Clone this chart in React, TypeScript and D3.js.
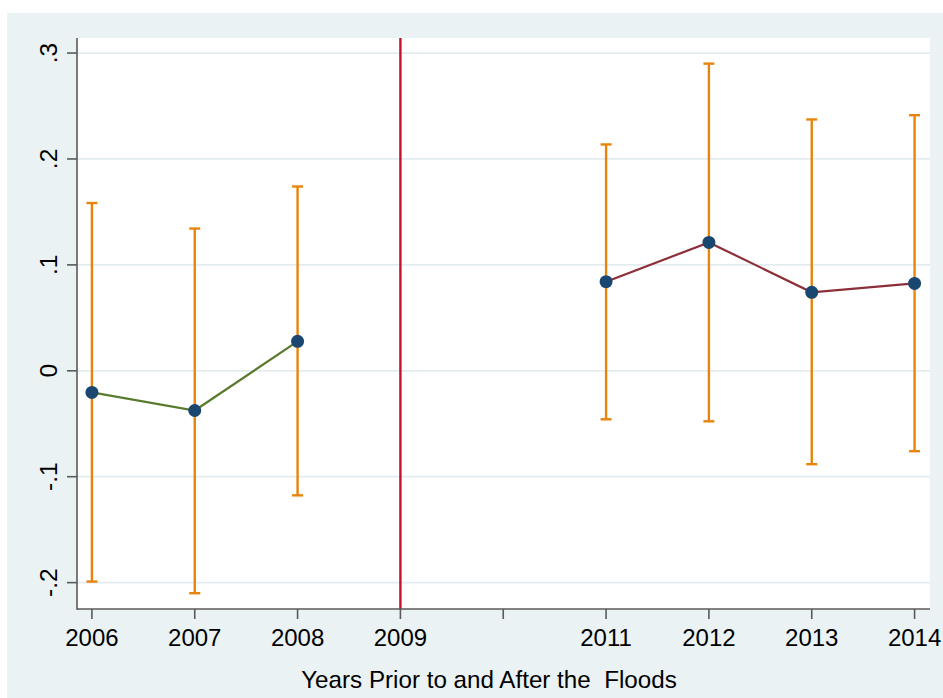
import React from "react";
import * as d3 from "d3";

// Point estimates with 95% confidence bounds, by year
const preYears = [2006, 2007, 2008];
const preEst = [-0.0204, -0.0375, 0.0278];
const preLower = [-0.199, -0.210, -0.1176];
const preUpper = [0.1584, 0.1343, 0.174];

const postYears = [2011, 2012, 2013, 2014];
const postEst = [0.0841, 0.1212, 0.0741, 0.0825];
const postLower = [-0.0458, -0.0477, -0.0882, -0.0759];
const postUpper = [0.2137, 0.290, 0.2373, 0.2413];

const floodYear = 2009;
const xTicks = [2006, 2007, 2008, 2009, 2010, 2011, 2012, 2013, 2014];
const xTickLabels = ["2006", "2007", "2008", "2009", "", "2011", "2012", "2013", "2014"];
const yTicks = [-0.2, -0.1, 0, 0.1, 0.2, 0.3];
const yTickLabels = ["-.2", "-.1", "0", ".1", ".2", ".3"];
const xTitle = "Years Prior to and After the  Floods";

const W = 943;
const H = 698;
const plot = { left: 77, right: 930, top: 38, bottom: 609 };

const BG = "#EAF2F3";
const GRID = "#E3ECEF";
const AXIS = "#5a5a5a";
const CI = "#E8840C";
const MARKER = "#1A476F";
const PRE_LINE = "#5A7B2E";
const POST_LINE = "#8C2F39";
const FLOOD = "#C8102E";
const FONT = "'Liberation Sans', Arial, Helvetica, sans-serif";

export default function App() {
  const x = d3.scaleLinear().domain([2005.855, 2014.15]).range([plot.left, plot.right]);
  const y = d3.scaleLinear().domain([-0.2249, 0.3142]).range([plot.bottom, plot.top]);

  const line = d3
    .line<[number, number]>()
    .x((d) => x(d[0]))
    .y((d) => y(d[1]));

  const pre = preYears.map((yr, i) => ({ yr, est: preEst[i], lo: preLower[i], hi: preUpper[i] }));
  const post = postYears.map((yr, i) => ({ yr, est: postEst[i], lo: postLower[i], hi: postUpper[i] }));
  const all = [...pre, ...post];
  const capHalf = 5.5;

  return (
    <svg
      width={W}
      height={H}
      style={{ position: "absolute", left: 0, top: 0, display: "block" }}
      fontFamily={FONT}
    >
      <rect x={0} y={0} width={W} height={H} fill="#ffffff" />
      <rect x={7} y={13} width={W - 7} height={H - 13} fill={BG} />
      <rect
        x={plot.left}
        y={plot.top}
        width={plot.right - plot.left}
        height={plot.bottom - plot.top}
        fill="#ffffff"
      />

      {/* horizontal grid */}
      {yTicks.map((t) => (
        <line
          key={"g" + t}
          x1={plot.left}
          x2={plot.right}
          y1={y(t)}
          y2={y(t)}
          stroke={GRID}
          strokeWidth={1.8}
        />
      ))}

      {/* flood year marker */}
      <line
        x1={x(floodYear)}
        x2={x(floodYear)}
        y1={plot.top}
        y2={plot.bottom}
        stroke={FLOOD}
        strokeWidth={2.4}
      />

      {/* confidence intervals */}
      {all.map((d) => (
        <g key={"ci" + d.yr} stroke={CI} strokeWidth={2.4}>
          <line x1={x(d.yr)} x2={x(d.yr)} y1={y(d.lo)} y2={y(d.hi)} />
          <line x1={x(d.yr) - capHalf} x2={x(d.yr) + capHalf} y1={y(d.hi)} y2={y(d.hi)} />
          <line x1={x(d.yr) - capHalf} x2={x(d.yr) + capHalf} y1={y(d.lo)} y2={y(d.lo)} />
        </g>
      ))}

      {/* connected estimates */}
      <path
        d={line(pre.map((d) => [d.yr, d.est] as [number, number])) || ""}
        fill="none"
        stroke={PRE_LINE}
        strokeWidth={2.2}
      />
      <path
        d={line(post.map((d) => [d.yr, d.est] as [number, number])) || ""}
        fill="none"
        stroke={POST_LINE}
        strokeWidth={2.2}
      />
      {all.map((d) => (
        <circle key={"m" + d.yr} cx={x(d.yr)} cy={y(d.est)} r={6.5} fill={MARKER} />
      ))}

      {/* axes */}
      <line x1={plot.left} x2={plot.left} y1={plot.top} y2={plot.bottom + 0.75} stroke={AXIS} strokeWidth={1.6} />
      <line x1={plot.left} x2={plot.right} y1={plot.bottom} y2={plot.bottom} stroke={AXIS} strokeWidth={1.6} />

      {yTicks.map((t, i) => (
        <g key={"yt" + t}>
          <line x1={plot.left - 10} x2={plot.left} y1={y(t)} y2={y(t)} stroke={AXIS} strokeWidth={1.6} />
          <text
            transform={`translate(57,${y(t)}) rotate(-90)`}
            textAnchor="middle"
            fontSize={24.5}
            fill="#000"
          >
            {yTickLabels[i]}
          </text>
        </g>
      ))}

      {xTicks.map((t, i) => (
        <g key={"xt" + t}>
          <line x1={x(t)} x2={x(t)} y1={plot.bottom} y2={plot.bottom + 10} stroke={AXIS} strokeWidth={1.6} />
          <text x={x(t)} y={646} textAnchor="middle" fontSize={24} fill="#000">
            {xTickLabels[i]}
          </text>
        </g>
      ))}

      <text x={489} y={688} textAnchor="middle" fontSize={24.2} fill="#000" style={{ whiteSpace: "pre" }}>
        {xTitle}
      </text>
    </svg>
  );
}
